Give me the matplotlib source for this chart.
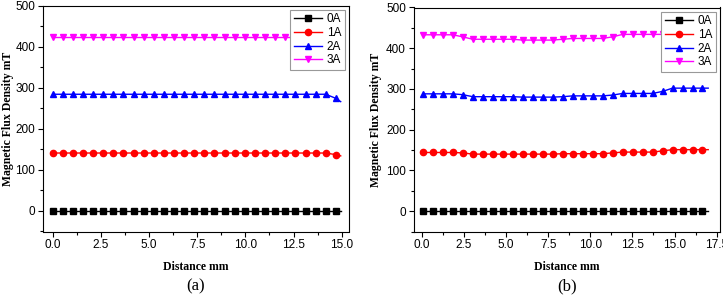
import numpy as np
import matplotlib
matplotlib.use('Agg')
from matplotlib import pyplot as plt
from matplotlib.ticker import MultipleLocator

### ******************
###       data
### ******************
# panel (a)
dist_a = [0.0, 0.525, 1.05, 1.575, 2.1, 2.625, 3.15, 3.675, 4.2, 4.725,
          5.25, 5.775, 6.3, 6.825, 7.35, 7.875, 8.4, 8.925, 9.45, 9.975,
          10.5, 11.025, 11.55, 12.075, 12.6, 13.125, 13.65, 14.175, 14.7, 14.95]
b0_a = [0]*30
b1_a = [141]*28 + [137, 134]
b2_a = [284]*28 + [274, 266]
b3_a = [424]*29 + [424]

# panel (b)
dist_b = [0.05, 0.64, 1.24, 1.83, 2.42, 3.02, 3.61, 4.2, 4.8, 5.39,
          5.98, 6.58, 7.17, 7.76, 8.36, 8.95, 9.54, 10.14, 10.73, 11.32,
          11.92, 12.51, 13.1, 13.7, 14.29, 14.88, 15.48, 16.07, 16.66, 17.0]
b0_b = [0]*30
b1_b = [144, 144, 144, 144, 143, 140, 140, 140, 140, 140,
        140, 140, 140, 140, 141, 141, 141, 141, 141, 143,
        145, 145, 145, 145, 148, 151, 151, 151, 151, 151]
b2_b = [288, 288, 288, 288, 286, 281, 281, 281, 281, 281,
        280, 280, 280, 280, 281, 283, 283, 283, 283, 285,
        289, 289, 289, 289, 294, 302, 302, 302, 302, 302]
b3_b = [433, 433, 433, 433, 428, 422, 422, 422, 422, 422,
        420, 420, 420, 420, 422, 424, 424, 424, 424, 428,
        434, 434, 434, 434, 434, 434, 434, 434, 434, 434]

labels = ['0A', '1A', '2A', '3A']
colors = ['black', 'red', 'blue', 'magenta']
markers = ['s', 'o', '^', 'v']

plt.rcParams['font.family'] = 'Liberation Sans'
plt.rcParams['font.size'] = 8.5

fig = plt.figure(figsize=(7.23, 2.98), dpi=100)
ax_a = fig.add_axes([43/723, 1-231.5/298, 306/723, 226/298])
ax_b = fig.add_axes([413.5/723, 1-231.5/298, 306.5/723, 224/298])

panels = [
    (ax_a, dist_a, [b0_a, b1_a, b2_a, b3_a], (-0.5, 15.38), '(a)', 14),
    (ax_b, dist_b, [b0_b, b1_b, b2_b, b3_b], (-0.5, 17.7), '(b)', 382),
]

for ax, x, series, xlim, tag, ylab_x in panels:
    for y, lab, c, m in zip(series, labels, colors, markers):
        ax.plot(x, y, color=c, marker=m, markersize=4.5, linewidth=1.0,
                markevery=list(range(len(x)-1)), label=lab)
    ax.set_xlim(*xlim)
    ax.set_ylim(-50, 500)
    ax.xaxis.set_major_locator(MultipleLocator(2.5))
    ax.xaxis.set_minor_locator(MultipleLocator(1.25))
    ax.yaxis.set_major_locator(MultipleLocator(100))
    ax.yaxis.set_minor_locator(MultipleLocator(50))
    ax.tick_params(which='major', direction='out', length=3.5, width=0.8, pad=2)
    ax.tick_params(which='minor', direction='out', length=2, width=0.8)
    for s in ax.spines.values():
        s.set_linewidth(0.8)
    ax.set_xlabel('Distance mm', fontfamily='Liberation Serif', fontweight='bold',
                  fontsize=8.5, labelpad=7)
    ax.set_ylabel('Magnetic Flux Density mT', fontfamily='Liberation Serif',
                  fontweight='bold', fontsize=8.5)
    # y label at a fixed pixel column
    bb = ax.get_position()
    ax.yaxis.set_label_coords((ylab_x/723 - bb.x0)/bb.width, 0.5)
    fig.text(bb.x0 + bb.width/2, 1-286/298, tag, ha='center', va='center',
             fontfamily='Liberation Serif', fontsize=12)
    leg = ax.legend(loc='upper right', frameon=True, fancybox=False,
                    edgecolor='#999999', framealpha=1, fontsize=8.5,
                    handlelength=2.4, handletextpad=0.4, borderpad=0.3,
                    labelspacing=0.15, borderaxespad=0.35)
    leg.get_frame().set_linewidth(0.8)

fig.savefig('out.png', dpi=100)
